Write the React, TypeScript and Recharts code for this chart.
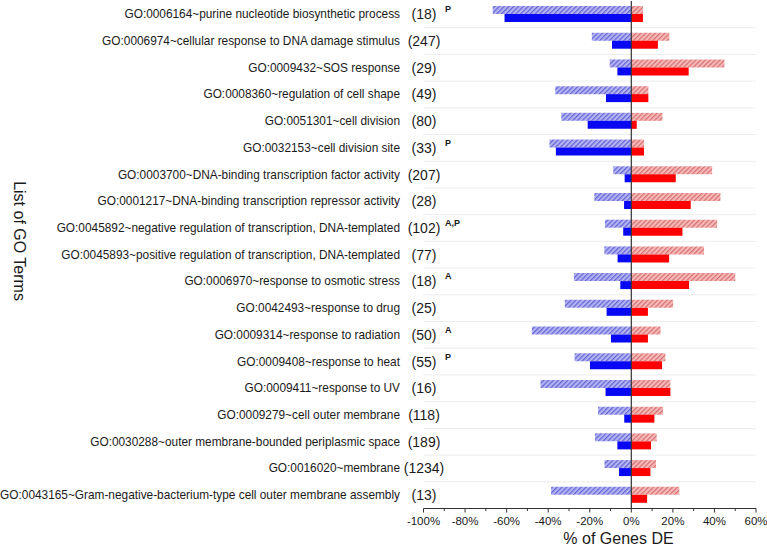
import React from 'react';
import { BarChart, Bar, XAxis, YAxis, CartesianGrid, ReferenceLine } from 'recharts';

const terms = [
  'GO:0006164~purine nucleotide biosynthetic process',
  'GO:0006974~cellular response to DNA damage stimulus',
  'GO:0009432~SOS response',
  'GO:0008360~regulation of cell shape',
  'GO:0051301~cell division',
  'GO:0032153~cell division site',
  'GO:0003700~DNA-binding transcription factor activity',
  'GO:0001217~DNA-binding transcription repressor activity',
  'GO:0045892~negative regulation of transcription, DNA-templated',
  'GO:0045893~positive regulation of transcription, DNA-templated',
  'GO:0006970~response to osmotic stress',
  'GO:0042493~response to drug',
  'GO:0009314~response to radiation',
  'GO:0009408~response to heat',
  'GO:0009411~response to UV',
  'GO:0009279~cell outer membrane',
  'GO:0030288~outer membrane-bounded periplasmic space',
  'GO:0016020~membrane',
  'GO:0043165~Gram-negative-bacterium-type cell outer membrane assembly',
];
const counts = [18, 247, 29, 49, 80, 33, 207, 28, 102, 77, 18, 25, 50, 55, 16, 118, 189, 1234, 13];
const annotations = ['P', '', '', '', '', 'P', '', '', 'A,P', '', 'A', '', 'A', 'P', '', '', '', '', ''];

const hatchedNeg = [-66.7, -19, -10.4, -36.6, -33.7, -39.4, -8.7, -17.8, -12.7, -13, -27.6, -32, -47.9, -27.3, -43.7, -16, -17.5, -12.9, -38.6];
const solidNeg = [-61, -9.3, -6.7, -12.2, -21, -36.3, -3.2, -3.5, -3.9, -6.6, -5.3, -11.9, -9.8, -19.9, -12.4, -3.4, -6.7, -5.9, 0];
const hatchedPos = [5.6, 18.3, 44.8, 8.2, 15, 6.1, 38.9, 42.9, 41.3, 35, 50, 20.1, 14.1, 16.4, 18.8, 15.3, 12.2, 11.9, 23.1];
const solidPos = [5.6, 12.8, 27.6, 8.2, 2.6, 6.1, 21.4, 28.6, 24.6, 18.2, 27.8, 8, 8, 14.8, 18.8, 11.1, 9.5, 9.2, 7.6];

const xTicks = [-100, -90, -80, -70, -60, -50, -40, -30, -20, -10, 0, 10, 20, 30, 40, 50, 60];

const data = terms.map((t, i) => ({
  term: t,
  hn: hatchedNeg[i],
  hp: hatchedPos[i],
  sn: solidNeg[i],
  sp: solidPos[i],
}));

const FONT = '"Liberation Sans", Arial, sans-serif';

const YTick = (props: any) => {
  const { y, payload, index } = props;
  const i = typeof index === 'number' ? index : terms.indexOf(payload.value);
  const ann = annotations[i];
  return (
    <g fontFamily={FONT}>
      <text x={400} y={y} textAnchor="end" dominantBaseline="central" fontSize={11.85} fill="#1a1a1a">
        {payload.value}
      </text>
      <text x={424} y={y} textAnchor="middle" dominantBaseline="central" fontSize={14} fill="#1a1a1a">
        ({counts[i]})
      </text>
      {ann ? (
        <text x={445} y={y - 5} textAnchor="start" dominantBaseline="central" fontSize={9} fontWeight="bold" fill="#1a1a1a">
          {ann}
        </text>
      ) : null}
    </g>
  );
};

const XTick = (props: any) => {
  const { x, y, payload } = props;
  const v = payload.value;
  const major = v % 20 === 0;
  return (
    <g fontFamily={FONT}>
      <line x1={x} x2={x} y1={y - 8} y2={y - 8 + (major ? 4 : 2.5)} stroke="#333" strokeWidth={1} />
      {major ? (
        <text x={x} y={y + 8} textAnchor="middle" fontSize={11.5} fill="#1a1a1a">
          {`${v}%`}
        </text>
      ) : null}
    </g>
  );
};

export default function App() {
  return (
    <div style={{ position: 'absolute', left: 0, top: 0, width: 767, height: 547, background: '#fff' }}>
      <svg width={0} height={0} style={{ position: 'absolute' }}>
        <defs>
          <pattern id="hatchBlue" patternUnits="userSpaceOnUse" width={3.4} height={3.4} patternTransform="rotate(45)">
            <rect width={3.4} height={3.4} fill="#b3b3f2" />
            <rect width={1.2} height={3.4} fill="#6464d6" />
          </pattern>
          <pattern id="hatchRed" patternUnits="userSpaceOnUse" width={3.4} height={3.4} patternTransform="rotate(45)">
            <rect width={3.4} height={3.4} fill="#f5b9b9" />
            <rect width={1.2} height={3.4} fill="#d96f6f" />
          </pattern>
        </defs>
      </svg>
      <BarChart
        width={767}
        height={547}
        data={data}
        layout="vertical"
        stackOffset="sign"
        barSize={8}
        barGap={0}
        margin={{ top: 1, right: 11, left: 0, bottom: 0 }}
      >
        <CartesianGrid
          vertical={false}
          stroke="#ececec"
          horizontalCoordinatesGenerator={(args: any) => {
            const off = args.offset;
            const n = terms.length;
            const arr: number[] = [];
            for (let k = 1; k < n; k++) arr.push(off.top + (k * off.height) / n);
            return arr;
          }}
        />
        <XAxis
          type="number"
          domain={[-100, 60]}
          ticks={xTicks}
          interval={0}
          height={38.5}
          tick={<XTick />}
          tickLine={false}
          axisLine={{ stroke: '#333' }}
          allowDataOverflow
        />
        <YAxis
          type="category"
          dataKey="term"
          width={423.5}
          interval={0}
          tick={<YTick />}
          tickLine={false}
          axisLine={false}
        />
        <Bar dataKey="hn" stackId="h" fill="url(#hatchBlue)" isAnimationActive={false} />
        <Bar dataKey="hp" stackId="h" fill="url(#hatchRed)" isAnimationActive={false} />
        <Bar dataKey="sn" stackId="s" fill="#0808f2" isAnimationActive={false} />
        <Bar dataKey="sp" stackId="s" fill="#fd0000" isAnimationActive={false} />
        <ReferenceLine x={0} stroke="#333" strokeWidth={1.2} />
      </BarChart>
      <svg width={767} height={547} style={{ position: 'absolute', left: 0, top: 0, pointerEvents: 'none' }}>
        <text x={618.5} y={544} textAnchor="middle" fontSize={16} fontFamily={FONT} fill="#1a1a1a">
          % of Genes DE
        </text>
        <text
          x={0}
          y={0}
          transform="translate(14 241) rotate(90)"
          textAnchor="middle"
          fontSize={16}
          fontFamily={FONT}
          fill="#1a1a1a"
        >
          List of GO Terms
        </text>
      </svg>
    </div>
  );
}
